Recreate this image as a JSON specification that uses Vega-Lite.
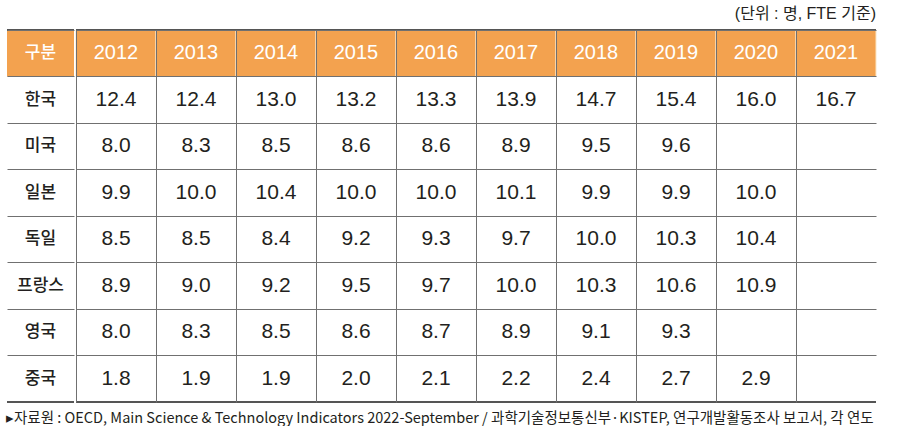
{
  "$schema": "https://vega.github.io/schema/vega-lite/v6.json",
  "background": "white",
  "padding": {"left": 6, "top": 6, "right": 0, "bottom": 0},
  "config": {
    "view": {"stroke": null},
    "font": "Liberation Sans, Noto Sans CJK KR",
    "concat": {"spacing": 0},
    "axis": {"labels": false, "ticks": false, "domain": false, "grid": true, "bandPosition": 0, "gridColor": "#707070", "gridWidth": 1, "gridOpacity": 1}
  },
  "title": {
    "text": "▸자료원 : OECD, Main Science & Technology Indicators 2022-September / 과학기술정보통신부·KISTEP, 연구개발활동조사 보고서, 각 연도",
    "orient": "bottom", "anchor": "start", "fontSize": 14.5, "fontWeight": "normal", "color": "#231f20", "offset": 9,
    "font": "Noto Sans CJK KR"
  },
  "datasets": {
    "rows": [{"country": "구분"}, {"country": "한국"}, {"country": "미국"}, {"country": "일본"}, {"country": "독일"}, {"country": "프랑스"}, {"country": "영국"}, {"country": "중국"}],
    "years": [{"year": "2012"}, {"year": "2013"}, {"year": "2014"}, {"year": "2015"}, {"year": "2016"}, {"year": "2017"}, {"year": "2018"}, {"year": "2019"}, {"year": "2020"}, {"year": "2021"}],
    "cells": [
      {"country": "한국", "year": "2012", "value": 12.4}, {"country": "한국", "year": "2013", "value": 12.4}, {"country": "한국", "year": "2014", "value": 13.0}, {"country": "한국", "year": "2015", "value": 13.2}, {"country": "한국", "year": "2016", "value": 13.3}, {"country": "한국", "year": "2017", "value": 13.9}, {"country": "한국", "year": "2018", "value": 14.7}, {"country": "한국", "year": "2019", "value": 15.4}, {"country": "한국", "year": "2020", "value": 16.0}, {"country": "한국", "year": "2021", "value": 16.7},
      {"country": "미국", "year": "2012", "value": 8.0}, {"country": "미국", "year": "2013", "value": 8.3}, {"country": "미국", "year": "2014", "value": 8.5}, {"country": "미국", "year": "2015", "value": 8.6}, {"country": "미국", "year": "2016", "value": 8.6}, {"country": "미국", "year": "2017", "value": 8.9}, {"country": "미국", "year": "2018", "value": 9.5}, {"country": "미국", "year": "2019", "value": 9.6},
      {"country": "일본", "year": "2012", "value": 9.9}, {"country": "일본", "year": "2013", "value": 10.0}, {"country": "일본", "year": "2014", "value": 10.4}, {"country": "일본", "year": "2015", "value": 10.0}, {"country": "일본", "year": "2016", "value": 10.0}, {"country": "일본", "year": "2017", "value": 10.1}, {"country": "일본", "year": "2018", "value": 9.9}, {"country": "일본", "year": "2019", "value": 9.9}, {"country": "일본", "year": "2020", "value": 10.0},
      {"country": "독일", "year": "2012", "value": 8.5}, {"country": "독일", "year": "2013", "value": 8.5}, {"country": "독일", "year": "2014", "value": 8.4}, {"country": "독일", "year": "2015", "value": 9.2}, {"country": "독일", "year": "2016", "value": 9.3}, {"country": "독일", "year": "2017", "value": 9.7}, {"country": "독일", "year": "2018", "value": 10.0}, {"country": "독일", "year": "2019", "value": 10.3}, {"country": "독일", "year": "2020", "value": 10.4},
      {"country": "프랑스", "year": "2012", "value": 8.9}, {"country": "프랑스", "year": "2013", "value": 9.0}, {"country": "프랑스", "year": "2014", "value": 9.2}, {"country": "프랑스", "year": "2015", "value": 9.5}, {"country": "프랑스", "year": "2016", "value": 9.7}, {"country": "프랑스", "year": "2017", "value": 10.0}, {"country": "프랑스", "year": "2018", "value": 10.3}, {"country": "프랑스", "year": "2019", "value": 10.6}, {"country": "프랑스", "year": "2020", "value": 10.9},
      {"country": "영국", "year": "2012", "value": 8.0}, {"country": "영국", "year": "2013", "value": 8.3}, {"country": "영국", "year": "2014", "value": 8.5}, {"country": "영국", "year": "2015", "value": 8.6}, {"country": "영국", "year": "2016", "value": 8.7}, {"country": "영국", "year": "2017", "value": 8.9}, {"country": "영국", "year": "2018", "value": 9.1}, {"country": "영국", "year": "2019", "value": 9.3},
      {"country": "중국", "year": "2012", "value": 1.8}, {"country": "중국", "year": "2013", "value": 1.9}, {"country": "중국", "year": "2014", "value": 1.9}, {"country": "중국", "year": "2015", "value": 2.0}, {"country": "중국", "year": "2016", "value": 2.1}, {"country": "중국", "year": "2017", "value": 2.2}, {"country": "중국", "year": "2018", "value": 2.4}, {"country": "중국", "year": "2019", "value": 2.7}, {"country": "중국", "year": "2020", "value": 2.9}
    ]
  },
  "hconcat": [
    {
      "width": 67,
      "height": 372,
      "layer": [
        {
          "data": {"name": "rows"},
          "transform": [{"filter": "datum.country === '구분'"}],
          "mark": {"type": "rect", "color": "#F3A24F"},
          "encoding": {
            "y": {"field": "country", "type": "nominal", "sort": null, "title": null,
                  "scale": {"domain": ["구분", "한국", "미국", "일본", "독일", "프랑스", "영국", "중국"], "paddingInner": 0, "paddingOuter": 0}}
          }
        },
        {
          "data": {"name": "rows"},
          "mark": {"type": "text", "fontSize": 17, "fontWeight": 500, "font": "Noto Sans CJK KR"},
          "encoding": {
            "y": {"field": "country", "type": "nominal", "sort": null, "title": null},
            "text": {"field": "country"},
            "color": {"condition": {"test": "datum.country === '구분'", "value": "white"}, "value": "#231f20"}
          }
        },
        {
          "data": {"values": [{}]},
          "mark": {"type": "rule", "color": "#555555", "strokeWidth": 2},
          "encoding": {"y": {"datum": "구분", "type": "nominal", "bandPosition": 0, "title": null}}
        },
        {
          "data": {"values": [{}]},
          "mark": {"type": "rule", "color": "#555555", "strokeWidth": 2},
          "encoding": {"y": {"datum": "중국", "type": "nominal", "bandPosition": 1, "title": null}}
        }
      ]
    },
    {
      "width": 800,
      "height": 372,
      "layer": [
        {
          "data": {"name": "years"},
          "mark": {"type": "rect", "color": "#F3A24F", "stroke": "#fbe6c6", "strokeWidth": 1},
          "encoding": {
            "x": {"field": "year", "type": "nominal", "sort": null, "title": null,
                  "scale": {"domain": ["2012", "2013", "2014", "2015", "2016", "2017", "2018", "2019", "2020", "2021"], "paddingInner": 0, "paddingOuter": 0}},
            "y": {"datum": "구분", "type": "nominal", "title": null,
                  "scale": {"domain": ["구분", "한국", "미국", "일본", "독일", "프랑스", "영국", "중국"], "paddingInner": 0, "paddingOuter": 0}}
          }
        },
        {
          "data": {"name": "years"},
          "mark": {"type": "text", "fontSize": 20, "color": "white"},
          "encoding": {
            "x": {"field": "year", "type": "nominal", "sort": null, "title": null},
            "y": {"datum": "구분", "type": "nominal", "title": null},
            "text": {"field": "year"}
          }
        },
        {
          "data": {"name": "cells"},
          "mark": {"type": "text", "fontSize": 21, "color": "#231f20"},
          "encoding": {
            "x": {"field": "year", "type": "nominal", "sort": null, "title": null},
            "y": {"field": "country", "type": "nominal", "sort": null, "title": null},
            "text": {"field": "value", "type": "quantitative", "format": ".1f"}
          }
        },
        {
          "data": {"values": [{}]},
          "mark": {"type": "rule", "color": "#555555", "strokeWidth": 2},
          "encoding": {"y": {"datum": "구분", "type": "nominal", "bandPosition": 0, "title": null}}
        },
        {
          "data": {"values": [{}]},
          "mark": {"type": "rule", "color": "#555555", "strokeWidth": 2},
          "encoding": {"y": {"datum": "중국", "type": "nominal", "bandPosition": 1, "title": null}}
        },
        {
          "data": {"values": [{"label": "(단위 : 명, FTE 기준)"}]},
          "mark": {"type": "text", "fontSize": 16, "color": "#231f20", "align": "right", "baseline": "middle", "dy": -16},
          "encoding": {
            "x": {"datum": "2021", "type": "nominal", "bandPosition": 1, "title": null},
            "y": {"datum": "구분", "type": "nominal", "bandPosition": 0, "title": null},
            "text": {"field": "label"}
          }
        }
      ]
    }
  ]
}
